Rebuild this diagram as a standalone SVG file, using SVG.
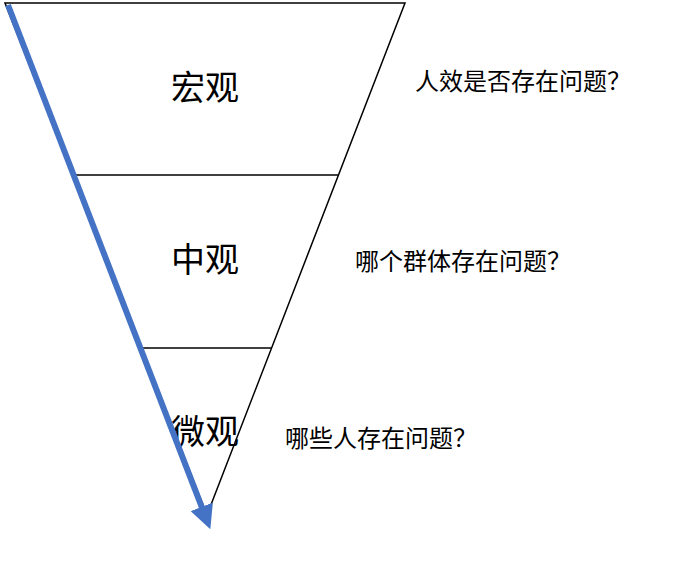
<svg xmlns="http://www.w3.org/2000/svg" width="700" height="570" viewBox="0 0 700 570">
<style>
.l{stroke:#000;stroke-width:1.5;fill:none}
.big{font-family:"Liberation Sans","Noto Sans CJK SC",sans-serif;font-size:34px;fill:#000;text-anchor:middle}
.q{font-family:"Liberation Sans","Noto Sans CJK SC",sans-serif;font-size:24px;fill:#000}
</style>
<defs><marker id="ah" markerWidth="4" markerHeight="4" refX="2" refY="2" orient="auto" markerUnits="strokeWidth"><path d="M0,0 L4,2 L0,4 z" fill="#4472C4"/></marker></defs>
<rect width="700" height="570" fill="#fff"/>
<g id="funnel">
<path class="l" d="M5,3 L405,3 L207,515 Z"/>
<line class="l" x1="72" y1="175" x2="338" y2="175"/>
<line class="l" x1="141" y1="348" x2="271" y2="348"/>
</g>
<g id="macro"><text class="big" x="205" y="100">宏观</text><text class="q" x="415" y="90">人效是否存在问题？</text></g>
<g id="meso"><text class="big" x="205" y="272">中观</text><text class="q" x="355" y="270">哪个群体存在问题？</text></g>
<g id="micro"><text class="big" x="205" y="444">微观</text><text class="q" x="285" y="447">哪些人存在问题？</text></g>
<g id="connectors"><line x1="8" y1="5" x2="206" y2="518" stroke="#4472C4" stroke-width="6" marker-end="url(#ah)"/></g>
</svg>
